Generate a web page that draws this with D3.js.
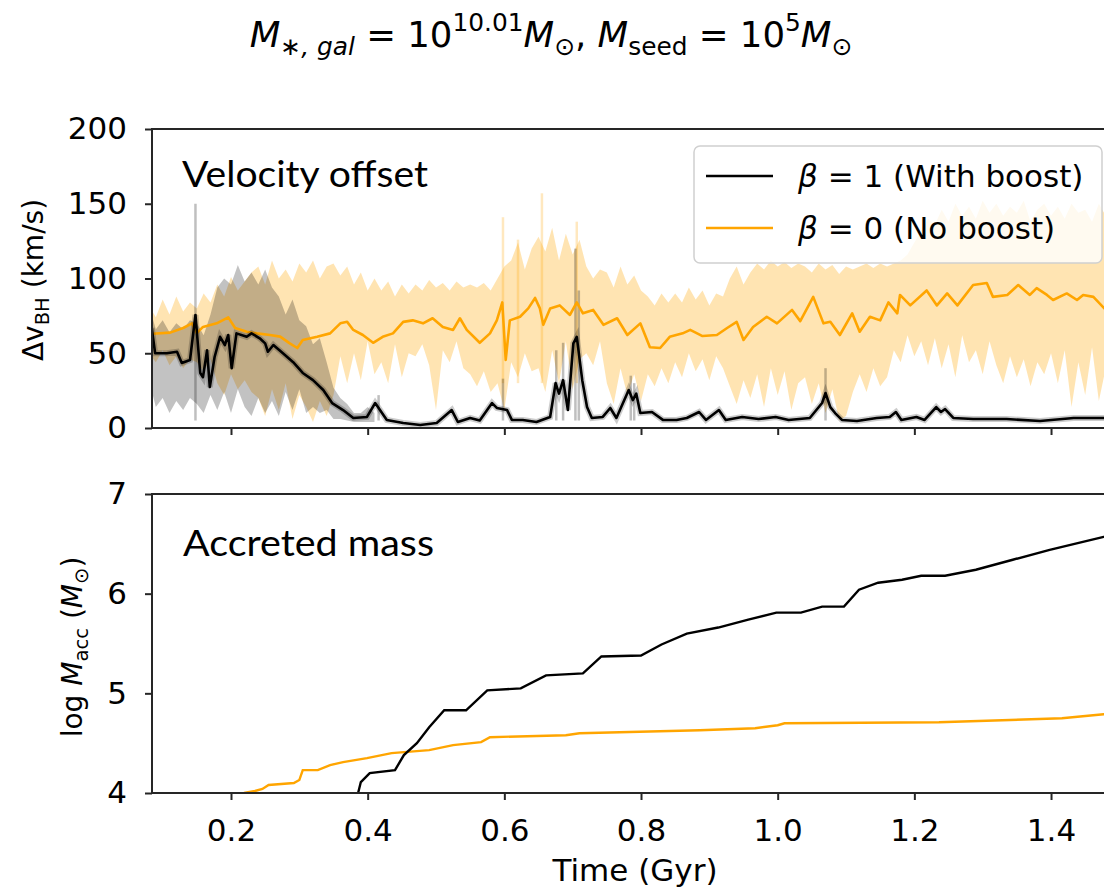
<!DOCTYPE html>
<html>
<head>
<meta charset="utf-8">
<script src="https://cdn.jsdelivr.net/npm/d3@7"></script>
<style>
  body { margin: 0; background: #fff; }
  text { font-family: "DejaVu Sans", sans-serif; fill: #000; }
</style>
</head>
<body>
<svg id="chart" width="1104" height="890"></svg>
<script>
// ---- data ----
// top panel: running mean of velocity offset (km/s)
var boostT = [0.084, 0.089, 0.106, 0.121, 0.128, 0.14, 0.148, 0.155, 0.159, 0.165, 0.169, 0.176, 0.184, 0.191, 0.196, 0.201, 0.208, 0.223, 0.23, 0.242, 0.25, 0.254, 0.262, 0.276, 0.291, 0.305, 0.32, 0.335, 0.348, 0.364, 0.379, 0.399, 0.411, 0.418, 0.428, 0.452, 0.477, 0.501, 0.523, 0.532, 0.55, 0.564, 0.582, 0.589, 0.604, 0.611, 0.627, 0.647, 0.667, 0.675, 0.68, 0.686, 0.693, 0.701, 0.706, 0.714, 0.721, 0.728, 0.744, 0.755, 0.764, 0.782, 0.788, 0.793, 0.799, 0.816, 0.832, 0.852, 0.867, 0.885, 0.895, 0.914, 0.924, 0.948, 0.972, 0.997, 1.016, 1.047, 1.065, 1.07, 1.077, 1.084, 1.094, 1.116, 1.145, 1.164, 1.173, 1.181, 1.203, 1.215, 1.232, 1.239, 1.245, 1.257, 1.286, 1.335, 1.384, 1.433, 1.478, 1.498];
var boostV = [67, 50, 50, 51, 43.5, 45.5, 75.6, 36.8, 34, 52, 27.4, 47.5, 61, 55.5, 62.2, 40, 63.3, 61, 63.3, 60, 56.6, 51, 55.5, 50, 44, 36.8, 32, 25.4, 16.7, 12, 6.7, 7.4, 16.7, 12, 5.4, 3.3, 2, 3.3, 12, 4, 6.7, 5, 16.7, 13.4, 12, 5.4, 5.4, 4, 7.4, 30, 23, 32, 12, 56.6, 61, 32, 14, 6.7, 7.4, 13.4, 6.7, 25.4, 18.7, 23, 10, 10.7, 5.4, 5.4, 6.7, 10.7, 5.4, 12, 5.4, 7.4, 6, 7.4, 5.4, 6.7, 16.7, 23.4, 14, 10, 5.4, 4.7, 6.7, 7.4, 10.7, 5.4, 7.4, 5.4, 14, 10.7, 12.7, 6.7, 6, 6, 4.7, 6.7, 6.7, 6.7];

var noBoostT = [0.084, 0.111, 0.13, 0.143, 0.15, 0.159, 0.179, 0.196, 0.206, 0.223, 0.238, 0.257, 0.272, 0.286, 0.297, 0.305, 0.326, 0.345, 0.36, 0.37, 0.379, 0.393, 0.408, 0.422, 0.437, 0.452, 0.466, 0.481, 0.495, 0.51, 0.525, 0.535, 0.545, 0.564, 0.579, 0.589, 0.597, 0.602, 0.608, 0.623, 0.635, 0.645, 0.652, 0.657, 0.667, 0.681, 0.696, 0.706, 0.715, 0.73, 0.745, 0.765, 0.78, 0.799, 0.813, 0.828, 0.842, 0.861, 0.872, 0.89, 0.911, 0.926, 0.94, 0.95, 0.964, 0.984, 0.999, 1.021, 1.033, 1.052, 1.067, 1.077, 1.091, 1.109, 1.12, 1.135, 1.15, 1.162, 1.175, 1.179, 1.194, 1.218, 1.233, 1.248, 1.263, 1.286, 1.306, 1.315, 1.336, 1.352, 1.369, 1.379, 1.394, 1.403, 1.423, 1.438, 1.447, 1.462, 1.478, 1.498];
var noBoostV = [63, 63.8, 66.9, 70, 63.5, 67.6, 70, 74, 66.9, 64.4, 63.3, 62.2, 61.1, 56.6, 53.5, 58.9, 61.1, 63.3, 70, 71, 65.6, 62.2, 57, 61, 63.3, 71, 72, 70, 73.4, 67.6, 65.6, 73.4, 65.6, 57, 63.3, 72, 84, 45.5, 72, 74.4, 80, 87, 80, 69, 80, 82, 75.6, 84, 76.7, 79, 69, 73.4, 62.2, 70, 54, 53.5, 61, 63.3, 65.6, 61.5, 62.2, 66.9, 71, 58.9, 67.6, 74.4, 70, 79, 71.5, 87.7, 70, 71, 62.2, 76.7, 64.4, 74.4, 72, 84, 76.7, 89, 82, 92, 82, 90, 82, 95.6, 97, 87.7, 89, 95.6, 89, 93.6, 89, 85.6, 90, 85.6, 89, 87.7, 80, 80];

// scatter envelopes, one value per 0.01 Gyr starting at 0.08 Gyr
var noBoostHi = [82, 74, 86, 76, 88, 78, 84, 80, 90, 84, 96, 88, 101, 92, 98, 104, 108, 96, 112, 100, 106, 98, 110, 104, 112, 100, 108, 110, 102, 108, 96, 104, 92, 100, 92, 98, 88, 96, 90, 96, 92, 99, 94, 97, 92, 98, 94, 96, 94, 97, 92, 100, 108, 112, 124, 106, 120, 128, 118, 134, 112, 130, 116, 126, 108, 100, 106, 104, 94, 108, 96, 102, 92, 88, 82, 90, 84, 90, 84, 94, 86, 92, 82, 90, 88, 100, 108, 96, 104, 110, 106, 112, 108, 111, 107, 110, 108, 104, 110, 106, 109, 103, 108, 106, 108, 110, 107, 110, 108, 110, 112, 116, 124, 132, 140, 136, 146, 138, 150, 142, 148, 140, 152, 144, 150, 142, 148, 144, 152, 138, 146, 150, 142, 148, 140, 150, 144, 146, 138, 150, 142];
var noBoostLo = [50, 44, 52, 42, 48, 40, 46, 44, 38, 46, 30, 22, 36, 26, 32, 24, 20, 8, 26, 12, 30, 6, 22, 14, 4, 18, 8, 22, 48, 30, 50, 32, 58, 36, 44, 30, 56, 34, 50, 48, 56, 42, 12, 52, 44, 58, 40, 36, 28, 38, 24, 30, 12, 44, 34, 50, 38, 40, 24, 52, 30, 58, 26, 46, 50, 42, 58, 30, 16, 40, 22, 36, 18, 36, 28, 40, 30, 44, 34, 50, 38, 46, 32, 48, 40, 28, 16, 32, 20, 36, 14, 40, 22, 38, 12, 30, 34, 16, 30, 10, 26, 5, 8, 24, 36, 24, 40, 28, 34, 52, 44, 62, 48, 58, 42, 60, 40, 56, 34, 62, 44, 52, 36, 58, 42, 30, 48, 34, 46, 28, 44, 36, 50, 30, 52, 14, 44, 22, 54, 18, 40];
var boostHi = [82, 66, 72, 64, 70, 66, 72, 70, 62, 76, 94, 100, 96, 109, 98, 104, 96, 106, 94, 88, 76, 86, 72, 68, 56, 60, 44, 27, 20, 16, 10, 10, 14, 10];
var boostLo = [32, 14, 20, 10, 18, 12, 20, 16, 10, 22, 12, 24, 10, 26, 14, 8, 20, 10, 18, 8, 24, 12, 26, 10, 14, 10, 12, 6, 6, 5, 4, 4, 4, 4];

// isolated narrow spikes of the scatter
var boostSpikeT = [0.148, 0.416, 0.598, 0.676, 0.686, 0.704, 0.709, 0.785, 0.79, 1.07];
var boostSpikeHi = [150, 22, 33, 52, 57, 120, 92, 35, 30, 40];
var noBoostSpikeT = [0.598, 0.62, 0.655, 0.706];
var noBoostSpikeHi = [141, 126, 157, 138];

// bottom panel: log accreted mass
var accBoostT = [0.386, 0.39, 0.403, 0.44, 0.453, 0.472, 0.49, 0.512, 0.544, 0.575, 0.624, 0.661, 0.715, 0.742, 0.8, 0.83, 0.867, 0.913, 0.957, 0.998, 1.034, 1.065, 1.097, 1.119, 1.147, 1.182, 1.21, 1.245, 1.29, 1.344, 1.398, 1.477, 1.498];
var accBoostV = [4.0, 4.11, 4.2, 4.23, 4.38, 4.5, 4.66, 4.83, 4.83, 5.03, 5.05, 5.18, 5.2, 5.37, 5.38, 5.49, 5.6, 5.66, 5.74, 5.81, 5.81, 5.87, 5.87, 6.04, 6.11, 6.14, 6.18, 6.18, 6.24, 6.34, 6.44, 6.57, 6.6];
var accNoBoostT = [0.219, 0.235, 0.246, 0.255, 0.292, 0.3, 0.305, 0.327, 0.345, 0.364, 0.399, 0.435, 0.49, 0.525, 0.566, 0.579, 0.69, 0.71, 0.886, 0.967, 1.0, 1.01, 1.236, 1.416, 1.477, 1.498];
var accNoBoostV = [4.0, 4.02, 4.04, 4.08, 4.1, 4.13, 4.23, 4.23, 4.28, 4.31, 4.35, 4.4, 4.43, 4.48, 4.51, 4.56, 4.58, 4.6, 4.63, 4.65, 4.68, 4.7, 4.71, 4.75, 4.79, 4.8];

var timeTicks = [0.2, 0.4, 0.6, 0.8, 1.0, 1.2, 1.4];
var velTicks = [0, 50, 100, 150, 200];
var massTicks = [4, 5, 6, 7];

// ---- layout ----
var svg = d3.select("#chart");
var left = 152, right = 1118;
var top1 = 129, bot1 = 428, top2 = 494, bot2 = 793;
var ORANGE = "#ffa500", SPINE = "#262626";

var x = d3.scaleLinear().domain([0.0844, 1.498]).range([left, right]);
var yv = d3.scaleLinear().domain([0, 200]).range([bot1, top1]);
var ym = d3.scaleLinear().domain([4, 7]).range([bot2, top2]);

var bandT = d3.range(noBoostHi.length).map(function(i) { return 0.08 + 0.01 * i; });

function zip(ts, vs) { return ts.map(function(t, i) { return [t, vs[i]]; }); }

// writes mathtext-like runs (italic, sub, sup) into a text element
function rich(sel, parts, size) {
  var shift = 0;
  parts.forEach(function(p) {
    var target = p.s === "sub" ? 0.22 * size : p.s === "sup" ? -0.45 * size : 0;
    var ts = sel.append("tspan").text(p.t)
      .attr("dy", target - shift)
      .attr("font-size", p.s ? size * 0.7 : size);
    if (p.i) ts.attr("font-style", "italic");
    shift = target;
  });
}

var defs = svg.append("defs");
defs.append("clipPath").attr("id", "c1").append("rect")
  .attr("x", left).attr("y", top1).attr("width", right - left).attr("height", bot1 - top1);
defs.append("clipPath").attr("id", "c2").append("rect")
  .attr("x", left).attr("y", top2).attr("width", right - left).attr("height", bot2 - top2);

// ---- top panel ----
var p1 = svg.append("g").attr("clip-path", "url(#c1)");

var band = d3.area()
  .x(function(d) { return x(d[0]); })
  .y0(function(d) { return yv(d[1]); })
  .y1(function(d) { return yv(d[2]); });

p1.append("path")
  .datum(bandT.map(function(t, i) { return [t, noBoostLo[i], noBoostHi[i]]; }))
  .attr("d", band).attr("fill", ORANGE).attr("fill-opacity", 0.3);

var vline = d3.line().x(function(d) { return x(d[0]); }).y(function(d) { return yv(d[1]); });

noBoostSpikeT.forEach(function(t, i) {
  p1.append("path").datum([[t, 30], [t, noBoostSpikeHi[i]]]).attr("d", vline)
    .attr("stroke", ORANGE).attr("stroke-opacity", 0.25).attr("stroke-width", 2.5);
});

p1.append("path")
  .datum(bandT.slice(0, boostHi.length).map(function(t, i) { return [t, boostLo[i], boostHi[i]]; }))
  .attr("d", band).attr("fill", "#000").attr("fill-opacity", 0.24);

boostSpikeT.forEach(function(t, i) {
  p1.append("path").datum([[t, 5], [t, boostSpikeHi[i]]]).attr("d", vline)
    .attr("stroke", "#000").attr("stroke-opacity", 0.25).attr("stroke-width", 2.5);
});

p1.append("path").datum(zip(noBoostT, noBoostV)).attr("d", vline)
  .attr("fill", "none").attr("stroke", ORANGE).attr("stroke-width", 2.6).attr("stroke-linejoin", "round");

// faint halo then the mean line
p1.append("path").datum(zip(boostT, boostV)).attr("d", vline)
  .attr("fill", "none").attr("stroke", "#000").attr("stroke-opacity", 0.2).attr("stroke-width", 6);
p1.append("path").datum(zip(boostT, boostV)).attr("d", vline)
  .attr("fill", "none").attr("stroke", "#000").attr("stroke-width", 2.6).attr("stroke-linejoin", "round");

// ---- bottom panel ----
var p2 = svg.append("g").attr("clip-path", "url(#c2)");
var mline = d3.line().x(function(d) { return x(d[0]); }).y(function(d) { return ym(d[1]); });
p2.append("path").datum(zip(accNoBoostT, accNoBoostV)).attr("d", mline)
  .attr("fill", "none").attr("stroke", ORANGE).attr("stroke-width", 2.4);
p2.append("path").datum(zip(accBoostT, accBoostV)).attr("d", mline)
  .attr("fill", "none").attr("stroke", "#000").attr("stroke-width", 2.4);

// ---- axes ----
function styleAxis(g) {
  g.selectAll(".domain").remove();
  g.selectAll(".tick line").attr("stroke", SPINE).attr("stroke-width", 2);
  g.selectAll(".tick text").attr("font-size", 31).attr("fill", "#000")
    .attr("font-family", "DejaVu Sans");
}

svg.append("g").attr("transform", "translate(" + left + ",0)")
  .call(d3.axisLeft(yv).tickValues(velTicks).tickSize(7).tickPadding(18))
  .call(styleAxis);
svg.append("g").attr("transform", "translate(0," + bot1 + ")")
  .call(d3.axisBottom(x).tickValues(timeTicks).tickSize(7).tickFormat(""))
  .call(styleAxis);
svg.append("g").attr("transform", "translate(" + left + ",0)")
  .call(d3.axisLeft(ym).tickValues(massTicks).tickSize(7).tickPadding(18).tickFormat(d3.format("d")))
  .call(styleAxis);
svg.append("g").attr("transform", "translate(0," + bot2 + ")")
  .call(d3.axisBottom(x).tickValues(timeTicks).tickSize(7).tickPadding(19).tickFormat(d3.format(".1f")))
  .call(styleAxis);

// spines: left, top, bottom (right edge runs off the picture)
[[top1, bot1], [top2, bot2]].forEach(function(p) {
  svg.append("path")
    .attr("d", "M" + (right + 20) + "," + p[0] + "H" + left + "V" + p[1] + "H" + (right + 20))
    .attr("fill", "none").attr("stroke", SPINE).attr("stroke-width", 2);
});

// ---- texts ----
var title = svg.append("text").attr("x", 551).attr("y", 47).attr("text-anchor", "middle");
rich(title, [
  {t: "M", i: 1}, {t: "\u2217, gal", s: "sub", i: 1}, {t: " = 10"}, {t: "10.01", s: "sup"},
  {t: "M", i: 1}, {t: "\u2299", s: "sub"}, {t: ", "}, {t: "M", i: 1}, {t: "seed", s: "sub"},
  {t: " = 10"}, {t: "5", s: "sup"}, {t: "M", i: 1}, {t: "\u2299", s: "sub"}
], 35.5);

var yl1 = svg.append("text").attr("transform", "translate(43,280) rotate(-90)").attr("text-anchor", "middle");
rich(yl1, [{t: "\u0394v"}, {t: "BH", s: "sub"}, {t: " (km/s)"}], 28);

var yl2 = svg.append("text").attr("transform", "translate(82,647) rotate(-90)").attr("text-anchor", "middle");
rich(yl2, [{t: "log "}, {t: "M", i: 1}, {t: "acc", s: "sub"}, {t: " ("}, {t: "M", i: 1}, {t: "\u2299", s: "sub"}, {t: ")"}], 28);

svg.append("text").attr("x", 635).attr("y", 881).attr("text-anchor", "middle")
  .attr("font-size", 31).text("Time (Gyr)");

svg.append("text").attr("x", 182).attr("y", 187)
  .style("font-family", "Lato, 'Open Sans', sans-serif")
  .attr("font-size", 36).attr("textLength", 246).attr("lengthAdjust", "spacingAndGlyphs")
  .text("Velocity offset");
svg.append("text").attr("x", 183).attr("y", 556)
  .style("font-family", "Lato, 'Open Sans', sans-serif")
  .attr("font-size", 37).attr("textLength", 251).attr("lengthAdjust", "spacingAndGlyphs")
  .text("Accreted mass");

// ---- legend ----
var lg = svg.append("g");
lg.append("rect").attr("x", 694).attr("y", 146).attr("width", 408).attr("height", 117)
  .attr("rx", 6).attr("fill", "#fff").attr("fill-opacity", 0.8)
  .attr("stroke", "#d0d0d0").attr("stroke-width", 1.5);
var legendItems = [
  {color: "#000", parts: [{t: "\u03b2", i: 1}, {t: " = 1 (With boost)"}]},
  {color: ORANGE, parts: [{t: "\u03b2", i: 1}, {t: " = 0 (No boost)"}]}
];
legendItems.forEach(function(d, i) {
  var yy = 176 + i * 52;
  lg.append("line").attr("x1", 706).attr("x2", 773).attr("y1", yy).attr("y2", yy)
    .attr("stroke", d.color).attr("stroke-width", 2.6);
  var t = lg.append("text").attr("x", 798).attr("y", yy + 11);
  rich(t, d.parts, 31);
});
</script>
</body>
</html>
